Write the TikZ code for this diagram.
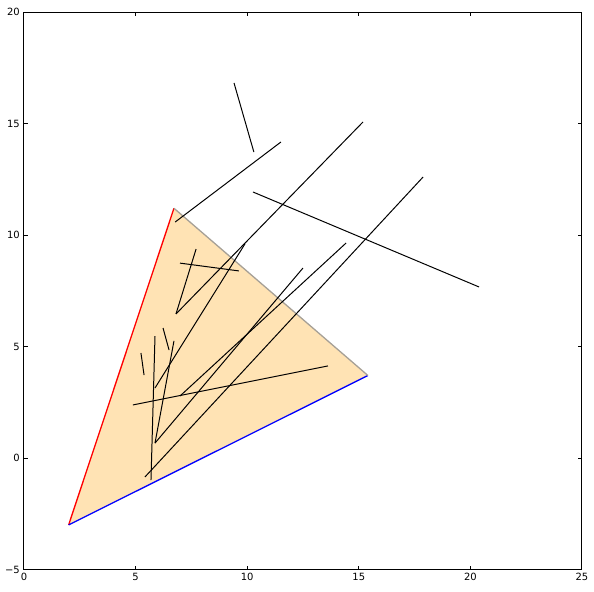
\documentclass[tikz,border=0pt]{standalone}
\usepackage{fontspec}
\setmainfont{DejaVu Sans}
\usepackage{xcolor}
\usetikzlibrary{positioning}

\definecolor{trifill}{RGB}{255,227,180}
\definecolor{triedge}{RGB}{166,160,150}

\begin{document}
\begin{tikzpicture}[
  x=0.6696cm, y=0.669cm,
  seg/.style={black, line width=0.85pt},
  frame/.style={black, line width=0.85pt},
  tk/.style={black, line width=0.85pt},
  lbl/.style={font=\fontsize{8.5}{10}\selectfont, inner sep=0pt}
]
  \useasboundingbox (-1.075,-5.964) rectangle (25.54,20.54);

  % triangle
  \coordinate (P) at (2,-3);
  \coordinate (Q) at (6.72,11.2);
  \coordinate (R) at (15.41,3.7);
  \fill[trifill] (P) -- (Q) -- (R) -- cycle;
  \draw[red, line width=1.1pt] (P) -- (Q);
  \draw[blue, line width=1.1pt] (P) -- (R);
  \draw[triedge, line width=1.1pt] (Q) -- (R);

  % segments
  \foreach \xa/\ya/\xb/\yb in {
      9.41/16.82/10.30/13.72,
      6.77/10.58/11.51/14.17,
      10.26/11.93/20.39/7.67,
      5.87/3.14/9.90/9.60,
      5.42/-0.85/17.88/12.60,
      6.81/6.46/15.19/15.07,
      6.81/6.46/7.71/9.37,
      6.99/8.74/9.63/8.39,
      5.87/0.67/12.50/8.52,
      6.99/2.78/14.43/9.64,
      4.88/2.38/13.62/4.13,
      5.24/4.71/5.38/3.72,
      5.87/5.47/5.69/-0.99,
      6.23/5.83/6.50/4.84,
      6.72/5.25/5.87/0.67}
    \draw[seg] (\xa,\ya) -- (\xb,\yb);

  % axes
  \draw[frame] (0,-5) rectangle (25,20);
  \foreach \t in {0,5,...,25} {
    \draw[tk] (\t,-5) -- ++(0,0.12cm);
    \draw[tk] (\t,20) -- ++(0,-0.12cm);
    \node[lbl, anchor=north] (xl\t) at ([yshift=-0.11cm]\t,-5) {\t};
  }
  \foreach \t/\s in {-5/−5,0/0,5/5,10/10,15/15,20/20} {
    \draw[tk] (0,\t) -- ++(0.12cm,0);
    \draw[tk] (25,\t) -- ++(-0.12cm,0);
    \node[lbl, anchor=east] (yl\t) at ([xshift=-0.12cm]0,\t) {\s};
  }
\end{tikzpicture}
\end{document}
